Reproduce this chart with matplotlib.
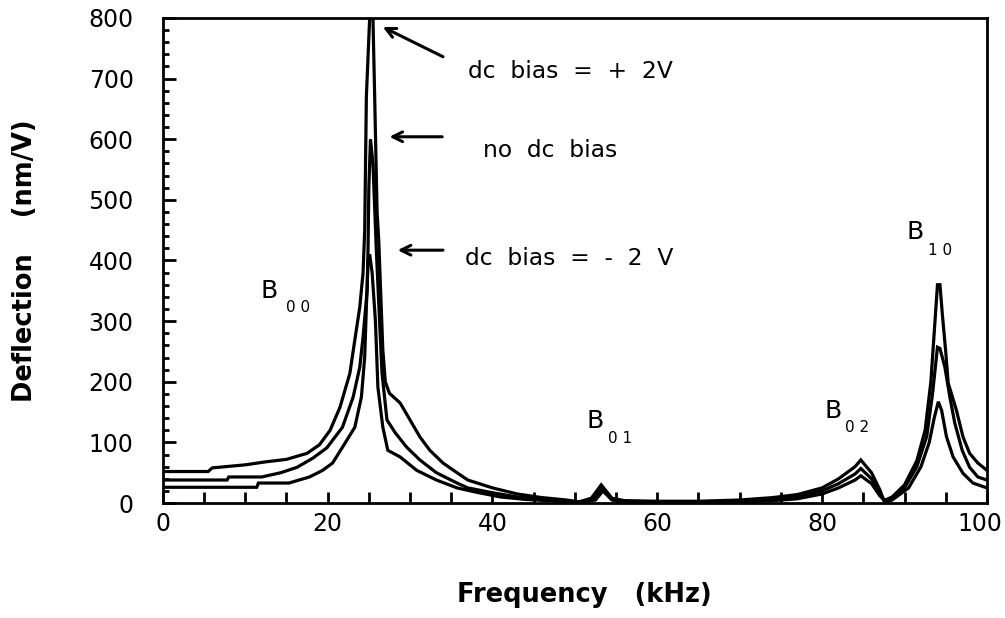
import matplotlib
matplotlib.use("Agg")
import matplotlib.pyplot as plt
import matplotlib.transforms as mtransforms
from matplotlib.ticker import MultipleLocator

# frequency (kHz) / deflection (nm/V)
freq_pos = [0, 5.5, 6, 10, 12.5, 15, 17.5, 19, 20.3, 21.5, 22.7, 23.3, 23.9, 24.3, 24.5, 24.7,
            25.1, 25.5, 25.7, 26.0, 26.2, 26.7, 27.0, 27.5, 28.8, 30.0, 31.2, 32.4, 34.0, 35.7,
            37.0, 40, 43, 46, 49, 50.5, 52, 53.2, 54.5, 56, 60, 65, 70, 74, 77, 80, 82, 84,
            84.7, 86, 87, 87.5, 88.5, 90, 91.5, 92.5, 93.2, 93.6, 94.0, 94.3, 94.6, 95.0, 95.3,
            96.3, 97.1, 97.9, 98.9, 100]
defl_pos = [52, 52, 58, 63, 68, 72, 82, 96, 120, 158, 214, 269, 323, 380, 450, 670,
            800, 800, 676, 480, 434, 252, 200, 181, 165, 137, 109, 87, 66, 50,
            38, 25, 15, 9, 5, 2, 8, 30, 8, 4, 3, 3, 5, 9, 14, 25, 40, 60,
            71, 50, 22, 4, 10, 30, 70, 120, 200, 280, 360, 360, 310, 250, 198,
            153, 109, 82, 66, 54]

freq_zero = [0, 7.8, 8, 12, 14.3, 16.3, 18.2, 19.9, 21.8, 23.1, 23.9, 24.3, 24.8, 24.9, 25.0,
             25.2, 25.5, 25.9, 26.3, 26.6, 27.2, 28.2, 29.6, 31.2, 33.2, 35.7, 37, 40, 43, 46,
             49, 51, 52.2, 53.3, 54.5, 56, 60, 65, 70, 74, 77, 80, 82, 84, 84.7, 86, 87, 87.6,
             88.5, 90, 91.5, 92.7, 93.4, 94.0, 94.3, 94.9, 95.5, 96.1, 97.0, 97.9, 98.9, 100]
defl_zero = [38, 38, 43, 43, 50, 59, 74, 91, 125, 175, 224, 274, 351, 417, 520,
             600, 560, 420, 300, 214, 137, 116, 92, 71, 50, 33, 25, 17, 10, 6,
             3, 2, 6, 25, 6, 3, 2, 2, 3, 6, 10, 20, 32, 48, 57, 40, 15, 3,
             8, 25, 60, 110, 180, 257, 255, 224, 175, 132, 87, 59, 43, 38]

freq_neg = [0, 11.4, 11.6, 15.3, 17.8, 19.4, 20.6, 21.8, 23.3, 24.1, 24.5, 24.7, 24.9, 25.1,
            25.4, 25.8, 26.1, 26.7, 27.3, 28.8, 30.8, 33.2, 35.7, 38, 41, 44, 48, 50, 52.5,
            53.4, 54.5, 56, 60, 65, 70, 74, 77, 80, 82, 84, 84.7, 86, 87, 87.8, 88.5, 90.5,
            92, 93, 93.6, 94.1, 94.5, 95.1, 95.9, 97.1, 98.3, 100]
defl_neg = [26, 26, 33, 33, 43, 54, 66, 92, 125, 175, 241, 323, 400, 410,
            380, 300, 191, 125, 87, 76, 54, 38, 25, 18, 10, 6, 3, 1, 5,
            20, 5, 2, 2, 2, 2, 4, 7, 15, 25, 38, 45, 32, 12, 2, 5, 25,
            60, 100, 140, 167, 153, 109, 76, 49, 33, 25]

x_ticks = [0, 20, 40, 60, 80, 100]

for f, d in [(freq_pos, defl_pos), (freq_zero, defl_zero), (freq_neg, defl_neg)]:
    assert len(f) == len(d)

fig = plt.figure(figsize=(10.05, 6.18), dpi=100)
ax = fig.add_axes([0.162, 0.186, 0.820, 0.785])

for f, d in [(freq_pos, defl_pos), (freq_zero, defl_zero), (freq_neg, defl_neg)]:
    ax.plot(f, d, color="black", linewidth=2.3, solid_joinstyle="miter")

ax.set_xlim(0, 100)
ax.set_ylim(0, 800)
ax.set_xticks(x_ticks)
ax.xaxis.set_minor_locator(MultipleLocator(5))
ax.yaxis.set_major_locator(MultipleLocator(100))
ax.yaxis.set_minor_locator(MultipleLocator(20))
ax.tick_params(axis="x", which="both", direction="in", length=8, width=2,
               labelbottom=False, top=False)
ax.tick_params(axis="y", which="major", direction="in", length=9, width=2, pad=21,
               labelsize=17, right=False)
ax.tick_params(axis="y", which="minor", direction="in", length=4.5, width=2, right=False)
for s in ax.spines.values():
    s.set_linewidth(2)

# x tick labels drawn by hand so that "100" can sit a little inside the edge
xlab_tr = mtransforms.blended_transform_factory(ax.transData, ax.transAxes)
for v in x_ticks:
    tr = xlab_tr
    if v == x_ticks[-1]:
        tr = xlab_tr + mtransforms.ScaledTranslation(-7 / 100, 0, fig.dpi_scale_trans)
    ax.text(v, -0.018, str(v), transform=tr, ha="center", va="top", fontsize=17)

lab_font = dict(family="DejaVu Sans", fontweight="bold", fontsize=18.5)
ax.set_xlabel("Frequency   (kHz)", **lab_font)
ax.set_ylabel("Deflection    (nm/V)", **lab_font)
ax.xaxis.set_label_coords(0.512, -0.163)
ax.yaxis.set_label_coords(-0.152, 0.5)

txt = dict(family="DejaVu Sans", fontsize=16.8, color="black", va="center", ha="left")
ax.text(37.0, 712, "dc  bias  =  +  2V", **txt)
ax.text(38.8, 582, "no  dc  bias", **txt)
ax.text(36.7, 403, "dc  bias  =  -  2  V", **txt)

arr = dict(arrowstyle="->,head_length=0.7,head_width=0.35", lw=2.2, color="black",
           shrinkA=0, shrinkB=0)
ax.annotate("", xy=(26.7, 785), xytext=(34.0, 736), arrowprops=arr)
ax.annotate("", xy=(27.5, 604), xytext=(33.9, 604), arrowprops=arr)
ax.annotate("", xy=(28.5, 417), xytext=(34.0, 417), arrowprops=arr)

big = dict(family="DejaVu Sans", fontsize=18, ha="center", va="center")
small = dict(family="DejaVu Sans", fontsize=11, ha="center", va="center")
for (bx, by), (sx, sy), sub in [((12.9, 350), (16.4, 323), "0 0"),
                                ((52.4, 135), (55.5, 106), "0 1"),
                                ((81.3, 152), (84.2, 124), "0 2"),
                                ((91.3, 447), (94.3, 417), "1 0")]:
    ax.text(bx, by, "B", **big)
    ax.text(sx, sy, sub, **small)

fig.savefig("out.png", dpi=100)
